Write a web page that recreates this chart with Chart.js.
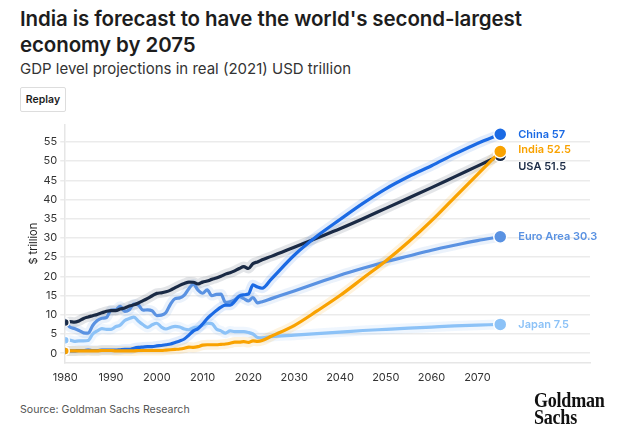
<!DOCTYPE html>
<html>
<head>
<meta charset="utf-8">
<script src="https://cdn.jsdelivr.net/npm/chart.js@4.4.1/dist/chart.umd.min.js"></script>
<style>
  body { margin:0; background:#fff; font-family:Inter, "Noto Sans", sans-serif; color:#1d1d1d; width:620px; height:436px; overflow:hidden; position:relative; }
  h1 { position:absolute; left:20px; top:6px; margin:0; font-size:20.5px; line-height:26px; font-weight:600; width:530px; letter-spacing:-0.1px; }
  .sub { position:absolute; left:20px; top:59px; font-size:15px; color:#333; }
  .btn { position:absolute; left:20px; top:87px; width:44px; height:23px; border:1px solid #ddd; border-radius:2px; font-size:10.5px; font-weight:600; line-height:23px; text-align:center; }
  #wrap { position:absolute; left:0; top:115px; width:620px; height:277px; }
  .src { position:absolute; left:20px; top:403px; font-size:10.6px; color:#555; }
  .logo { position:absolute; left:534px; top:392px; font-family:"Liberation Serif", serif; font-weight:bold; font-size:21.5px; line-height:17px; color:#111; transform:scaleX(0.84); transform-origin:left top; letter-spacing:-0.3px; }
</style>
</head>
<body>
<h1>India is forecast to have the world's second-largest economy by 2075</h1>
<div class="sub">GDP level projections in real (2021) USD trillion</div>
<div class="btn">Replay</div>
<div id="wrap"><canvas id="gdp"></canvas></div>
<div class="src">Source: Goldman Sachs Research</div>
<div class="logo">Goldman<br>Sachs</div>
<script>
// annual history to 2023, then 5-yearly projections
const years = [1980,1981,1982,1983,1984,1985,1986,1987,1988,1989,
  1990,1991,1992,1993,1994,1995,1996,1997,1998,1999,
  2000,2001,2002,2003,2004,2005,2006,2007,2008,2009,
  2010,2011,2012,2013,2014,2015,2016,2017,2018,2019,
  2020,2021,2022,2023,
  2025,2030,2035,2040,2045,2050,2055,2060,2065,2070,2075];

const usa = [8.0,8.2,8.07,8.4,9.05,9.43,9.76,10.09,10.51,10.9,
  11.1,11.08,11.48,11.79,12.27,12.59,13.08,13.67,14.29,14.95,
  15.57,15.71,15.97,16.42,17.06,17.65,18.14,18.5,18.47,18.01,
  18.5,18.79,19.21,19.56,20.03,20.58,20.93,21.43,22.05,22.54,
  22.05,23.32,23.76,24.3,
  25.2,27.6,30.0,32.4,35.0,37.7,40.4,43.1,45.9,48.7,51.5];

const china = [0.6,0.6,0.6,0.7,0.7,0.8,0.7,0.7,0.8,0.8,
  0.8,0.8,0.9,1.0,1.0,1.3,1.5,1.6,1.7,1.7,
  1.9,2.0,2.2,2.4,2.8,3.2,3.7,4.7,5.8,6.4,
  7.6,9.0,10.1,11.1,12.0,12.5,12.5,13.5,14.9,15.2,
  15.4,17.8,17.2,16.9,
  19.3,25.5,30.5,34.8,39.0,42.8,46.0,48.8,51.8,54.6,57];

const india = [0.6,0.6,0.6,0.6,0.6,0.6,0.6,0.6,0.7,0.7,
  0.7,0.6,0.6,0.6,0.6,0.6,0.7,0.7,0.7,0.7,
  0.7,0.7,0.8,0.9,1.0,1.1,1.3,1.6,1.5,1.7,
  2.1,2.2,2.2,2.2,2.3,2.4,2.6,2.9,2.9,3.0,
  2.8,3.2,3.1,3.3,
  4.4,7.2,11.0,15.0,19.5,24.0,29.0,34.5,40.5,46.5,52.5];

const euro = [8.2,6.8,6.4,5.9,5.3,5.2,7.2,8.5,9.1,9.3,
  11.2,11.3,12.2,10.9,11.3,12.8,12.5,11.2,11.3,11.0,
  9.8,9.9,10.6,12.8,14.2,14.4,15.1,16.8,18.0,16.4,
  15.6,16.5,15.0,15.3,15.4,13.2,13.4,13.9,14.7,14.2,
  13.6,14.5,13.1,13.4,
  14.2,16.2,18.3,20.3,22.1,23.8,25.3,26.8,28.1,29.3,30.3];

const japan = [3.4,3.4,3.1,3.2,3.2,3.3,5.0,5.8,6.4,6.2,
  6.2,6.9,7.3,8.5,9.0,9.4,8.3,7.4,6.7,7.4,
  7.8,6.8,6.3,6.7,7.0,6.8,6.3,6.1,6.6,6.8,
  7.3,7.8,7.7,6.3,5.8,5.2,5.8,5.6,5.6,5.6,
  5.4,5.0,4.1,4.0,
  4.3,4.7,5.1,5.5,5.9,6.2,6.5,6.8,7.1,7.3,7.5];

const xTicks = [1980,1990,2000,2010,2020,2030,2040,2050,2060,2070];
const yTicks = [0,5,10,15,20,25,30,35,40,45,50,55];

const series = [
  { name:'India',     data:india, color:'#f9a200', halo:'rgba(249,162,0,0.13)',  dy:-2 },
  { name:'China',     data:china, color:'#1b6ae4', halo:'rgba(27,106,228,0.12)', dy:0 },
  { name:'USA',       data:usa,   color:'#1a2a45', halo:'rgba(26,42,69,0.12)',   dy:11 },
  { name:'Euro Area', data:euro,  color:'#5a92e2', halo:'rgba(90,146,226,0.12)', dy:0 },
  { name:'Japan',     data:japan, color:'#8cc2f7', halo:'rgba(140,194,247,0.14)', dy:0 }
];

const pts = arr => years.map((yr, i) => ({ x: yr, y: arr[i] }));
const last = years.length - 1;

const lines = series.map(s => ({
  label: s.name,
  data: pts(s.data),
  borderColor: s.color,
  backgroundColor: s.color,
  borderWidth: 3.2,
  cubicInterpolationMode: 'monotone',
  pointRadius: c => c.dataIndex === 0 ? 4 : (c.dataIndex === last ? 6.5 : 0),
  pointBorderColor: '#fff',
  pointBorderWidth: 1.5,
  order: 0
}));
const halos = series.map(s => ({
  label: s.name + ' halo',
  data: pts(s.data),
  borderColor: s.halo,
  borderWidth: 10,
  cubicInterpolationMode: 'monotone',
  pointRadius: 0,
  order: 1
}));

const endLabels = {
  id: 'endLabels',
  afterDatasetsDraw(chart) {
    const ctx = chart.ctx;
    ctx.save();
    ctx.font = '600 11px Inter, sans-serif';
    ctx.textBaseline = 'middle';
    series.forEach((s, i) => {
      const p = chart.getDatasetMeta(i).data[last];
      ctx.fillStyle = s.color;
      ctx.fillText(s.name + ' ' + s.data[last], p.x + 18, p.y + s.dy);
    });
    ctx.restore();
  }
};

new Chart(document.getElementById('gdp'), {
  type: 'line',
  data: { datasets: lines.concat(halos) },
  options: {
    responsive: true,
    maintainAspectRatio: false,
    animation: false,
    layout: { padding: { left: 23, right: 30, top: 9, bottom: 0 } },
    plugins: { legend: { display: false }, tooltip: { enabled: false } },
    scales: {
      x: {
        type: 'linear', min: 1980, max: 2094.6,
        afterBuildTicks: sc => { sc.ticks = xTicks.map(v => ({ value: v })); },
        grid: { display: false, drawTicks: false },
        border: { display: true, color: '#e6e6e6', width: 1.5 },
        ticks: { padding: 8, color: '#333', font: { family: 'Inter', size: 11 }, maxRotation: 0, callback: v => String(v) }
      },
      y: {
        min: -2.5, max: 59.5,
        afterBuildTicks: sc => { sc.ticks = yTicks.map(v => ({ value: v })); },
        grid: { color: '#ebebeb', lineWidth: 1.5, tickLength: 5 },
        border: { display: true, color: '#e6e6e6', width: 1.5 },
        ticks: { padding: 3, color: '#333', font: { family: 'Inter', size: 11 } },
        title: { display: true, text: '$ trillion', color: '#222', font: { family: 'Inter', size: 11 }, padding: { top: 4, bottom: 0 } }
      }
    }
  },
  plugins: [endLabels]
});
</script>
</body>
</html>
